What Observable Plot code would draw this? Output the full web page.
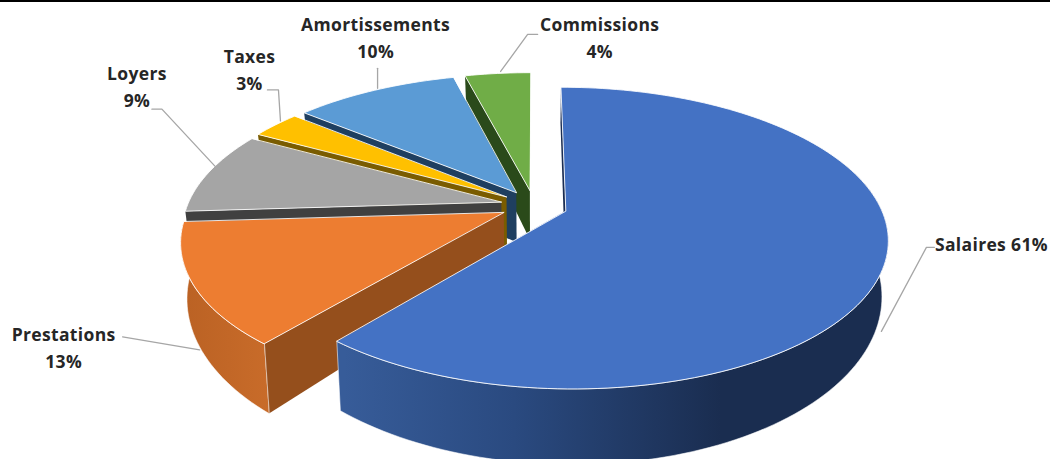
<!DOCTYPE html>
<html lang="fr">
<head>
<meta charset="utf-8">
<style>
  html, body { margin: 0; padding: 0; background: #fff; }
  svg { display: block; }
  svg text { letter-spacing: 0.35px; }
</style>
<script src="https://cdn.jsdelivr.net/npm/d3@7"></script>
<script src="https://cdn.jsdelivr.net/npm/@observablehq/plot@0.6"></script>
</head>
<body>
<div id="chart"></div>
<script>
// Répartition des charges, en pourcentage
const categories = ["Salaires", "Prestations", "Loyers", "Taxes", "Amortissements", "Commissions"];
const shares = [61, 13, 9, 3, 10, 4];

// Teintes : dessus, tranche coupée, paroi extérieure
const topColors = ["#4472c4", "#ed7d31", "#a5a5a5", "#ffc000", "#5b9bd5", "#70ad47"];
const cutColors = ["#1b2d52", "#954f1c", "#404040", "#7a5c00", "#1f3f60", "#2a4a1a"];
const wallColors = ["url(#wallBlue)", "url(#wallOrange)", "#404040", "#7a5c00", "#1f3f60", "#2a4a1a"];

// Vue en perspective du camembert éclaté
const view = {cx: 533.5, cy: 205, rx: 314, ry: 144, persp: 0.18, explode: 0.107, shrink: 0.982, stretch: 1.133, drop: 24};

// Étiquettes et amorces, en décalage depuis le point d'ancrage sur le bord de chaque part
const labelLayout = [
  {inline: true, onBase: true, gap: [3, 9], elbow: [48, -75], tail: [56, -75], text: [113, -80]},
  {onBase: true, gap: [0, 3], elbow: [-77, -10], tail: [-77, -10], text: [-136, -1.5]},
  {gap: [6, -6], elbow: [-47, -63], tail: [-57, -63], text: [-72, -87.5]},
  {gap: [5, -4], elbow: [3, -35], tail: [-8, -35], text: [-26, -57]},
  {gap: [3, -2], elbow: [3, -22], tail: [3, -22], text: [1, -54.5]},
  {gap: [3, -2], elbow: [30, -39], tail: [40, -39], text: [102, -38]}
];

const rad = (deg) => (deg * Math.PI) / 180;
const total = d3.sum(shares);

function project(u, v) {
  const w = 1 - view.persp * v;
  return [view.cx + (view.rx * u) / w, view.cy + (view.ry * v) / w];
}
function lower([x, y]) {
  return [view.cx + (x - view.cx) * view.shrink, view.stretch * y + view.drop];
}

// Angles cumulés dans le sens horaire depuis le haut
let running = 0;
const slices = shares.map((share, i) => {
  const start = (running / total) * 360;
  running += share;
  const end = (running / total) * 360;
  const mid = (start + end) / 2;
  const ox = view.explode * Math.sin(rad(mid));
  const oy = -view.explode * Math.cos(rad(mid));
  const rim = (deg) => project(ox + Math.sin(rad(deg)), oy - Math.cos(rad(deg)));
  const arc = (a, b) => {
    const n = Math.max(2, Math.ceil((b - a) / 1.5));
    return d3.range(n + 1).map((k) => rim(a + ((b - a) * k) / n));
  };
  return {i, start, end, mid, apex: project(ox, oy), rim, arc};
});

const closed = {curve: "linear-closed", x: (d) => d[0], y: (d) => d[1]};

// Faces de chaque part, de l'arrière vers l'avant
function sliceMarks(s) {
  const marks = [];
  const rimStart = s.rim(s.start);
  marks.push(Plot.line([s.apex, rimStart, lower(rimStart), lower(s.apex)], {
    ...closed, fill: cutColors[s.i], stroke: "none"
  }));
  // Seules les deux parts du premier plan montrent leur paroi extérieure
  if (s.start < 250) {
    const upper = s.arc(Math.max(s.start, 70), Math.min(s.end, 275));
    marks.push(Plot.line([...upper, ...upper.map(lower).reverse()], {
      ...closed, fill: wallColors[s.i], stroke: "#fff", strokeWidth: 0.8, strokeOpacity: 0.7
    }));
  }
  marks.push(Plot.line([s.apex, ...s.arc(s.start, s.end)], {
    ...closed, fill: topColors[s.i], stroke: "#fff", strokeWidth: 1, strokeOpacity: 0.85
  }));
  return marks;
}

// Dégradés des parois visibles
function gradients() {
  const defs = d3.create("svg:defs");
  const add = (id, x1, x2, stops) => {
    const g = defs.append("linearGradient").attr("id", id)
      .attr("gradientUnits", "userSpaceOnUse")
      .attr("x1", x1).attr("x2", x2).attr("y1", 0).attr("y2", 0);
    stops.forEach(([o, c]) => g.append("stop").attr("offset", o).attr("stop-color", c));
  };
  add("wallBlue", 344, 720, [[0, "#375c99"], [0.45, "#2a4a80"], [1, "#1a2d50"]]);
  add("wallOrange", 185, 272, [[0, "#bb6224"], [1, "#c96c2a"]]);
  return defs.node();
}

// Amorces et textes ancrés au bord de chaque part
const labels = slices.map((s) => {
  const layout = labelLayout[s.i];
  const edge = s.rim(s.mid);
  const p = layout.onBase ? lower(edge) : edge;
  const at = ([dx, dy]) => [p[0] + dx, p[1] + dy];
  return {
    leader: [at(layout.gap), at(layout.elbow), at(layout.tail)],
    pos: at(layout.text),
    text: `${categories[s.i]}${layout.inline ? " " : "\n"}${shares[s.i]}%`
  };
});

const chart = Plot.plot({
  width: 1050,
  height: 459,
  margin: 0,
  style: {background: "#fff"},
  x: {domain: [0, 1050], range: [0, 1050], axis: null},
  y: {domain: [0, 459], range: [0, 459], axis: null},
  marks: [
    gradients,
    Plot.ruleY([0], {stroke: "#000", strokeWidth: 3}),
    ...[5, 4, 3, 2, 1, 0].flatMap((i) => sliceMarks(slices[i])),
    ...labels.map((l) => Plot.line(l.leader, {
      x: (d) => d[0], y: (d) => d[1], stroke: "#a6a6a6", strokeWidth: 1.3
    })),
    Plot.text(labels, {
      x: (d) => d.pos[0],
      y: (d) => d.pos[1],
      text: "text",
      fontFamily: "Open Sans",
      fontSize: 17.5,
      fontWeight: 700,
      fill: "#262626",
      lineHeight: 1.55
    })
  ]
});
document.getElementById("chart").append(chart);
</script>
</body>
</html>
